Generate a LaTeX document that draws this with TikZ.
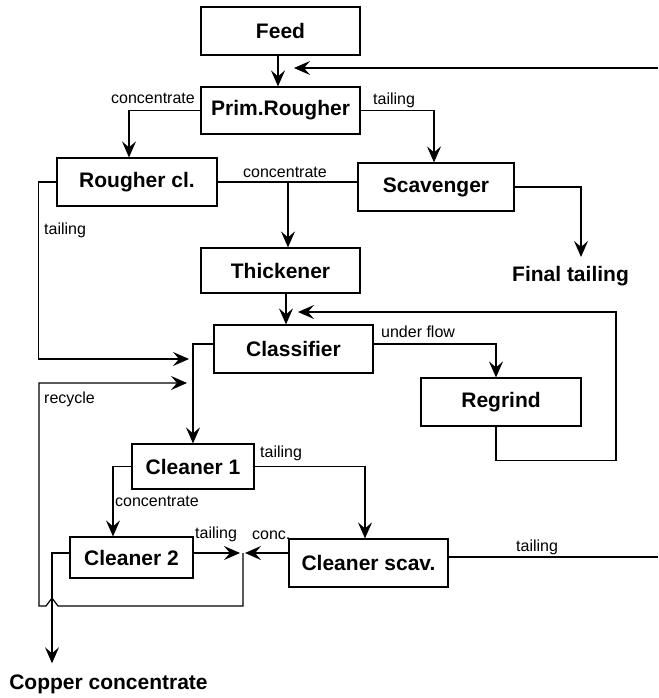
\documentclass[tikz,border=0pt]{standalone}
\usepackage{fontspec}
\setmainfont{Liberation Sans}
\usetikzlibrary{arrows.meta, positioning}

\begin{document}
\begin{tikzpicture}[x=1pt,y=-1pt,
    unit/.style={draw, line width=1.2pt, inner sep=0pt,
                 font=\fontsize{21}{24}\selectfont\bfseries},
    product/.style={inner sep=0pt, font=\fontsize{21}{24}\selectfont\bfseries},
    flow/.style={line width=1.2pt, -{Stealth[length=16pt,width=14pt,inset=6pt]}},
    pipe/.style={line width=1.2pt},
    lbl/.style={inner sep=0pt, font=\fontsize{16}{18}\selectfont}]
    \useasboundingbox (0,0) rectangle (658,698);
    % process units
    \foreach \name/\x/\y/\w/\h/\txt in {
        feed/280.5/31/159/48/Feed, prim/280.5/110.5/159/47/Prim.Rougher,
        rcl/137/182/160/48/Rougher cl., scav/436/187/156/48/Scavenger,
        thick/280.5/270.5/159/45/Thickener, class/293.5/349/159/48/Classifier,
        regrind/501/402/160/48/Regrind, cl1/193/466.5/122/45/Cleaner 1,
        cl2/131.5/557.5/123/41/Cleaner 2, clscav/368.5/563/159/48/Cleaner scav.}{
        \node[unit, minimum width=\w, minimum height=\h] (\name) at (\x,\y) {\txt};
    }
    \node[product] (fin) at (570.5,276) {Final tailing};
    \node[product] (cop) at (108.5,684) {Copper concentrate};
    % stream labels
    \foreach \name/\x/\y/\anc/\txt in {
        l1/195/104/base east/concentrate, l2/373/105/base west/tailing,
        l3/243/177/base west/concentrate, l4/44/234/base west/tailing,
        l5/381/337/base west/under flow, l6/44/403/base west/recycle,
        l7/260/457/base west/tailing, l8/115/506/base west/concentrate,
        l9/195/538/base west/tailing, l10/252/539/base west/conc.,
        l11/516/551/base west/tailing}{
        \node[lbl, anchor=\anc] (\name) at (\x,\y) {\txt};
    }
    % free ends
    \coordinate (retin) at (658,68);
    \coordinate (tout) at (658,557);
    \coordinate (mix) at (243,553);
    \coordinate (tin) at (189,359);
    \coordinate (cin) at (187,383);
    \coordinate (rin) at (298,312);
    % streams
    \draw[flow] ([xshift=-2.5]feed.south) -- ([xshift=-2.5]prim.north);
    \draw[flow, shorten >=13.5pt] (retin) -- (retin -| feed.south);
    \draw[flow] (prim.west) -| ([xshift=-8]rcl.north);
    \draw[flow] (prim.east) -| ([xshift=-2]scav.north);
    \draw[pipe] (rcl.east) -- (rcl.east -| scav.west);
    \draw[flow] ([xshift=7.5]thick.north |- rcl.east) -- ([xshift=7.5]thick.north);
    \draw[flow, shorten >=9pt] (scav.east) -| ([xshift=10.5]fin.north);
    \draw[flow] (rcl.west) -- ++(-18,0) |- (tin);
    \draw[flow] ([xshift=5.5]thick.south) -- ([xshift=5.5]thick.south |- class.north);
    \draw[flow] ([yshift=5]class.east) -| ([xshift=-5]regrind.north);
    \draw[flow] ([yshift=5]class.west) -| (cl1.north);
    \draw[flow] ([xshift=-5]regrind.south) -- ++(0,34) -- ++(120,0) |- (rin);
    \draw[flow] (mix) -- ++(0,53) -- ++(-185,0) -- ++(-6,-8) -- ++(-6,8) -- ++(-7,0) |- (cin);
    \draw[flow] (cl1.west) -| ([xshift=-18.5]cl2.north);
    \draw[flow] (cl1.east) -| ([xshift=-3.5]clscav.north);
    \draw[flow, shorten >=3pt] ([yshift=4.5]cl2.east) -- (mix);
    \draw[flow, shorten >=2pt] ([yshift=10]clscav.west) -- (mix);
    \draw[pipe] ([yshift=6]clscav.east) -- (tout);
    \draw[flow, shorten >=11pt] ([yshift=4.5]cl2.west) -| ([xshift=-56.5]cop.north);
\end{tikzpicture}
\end{document}
